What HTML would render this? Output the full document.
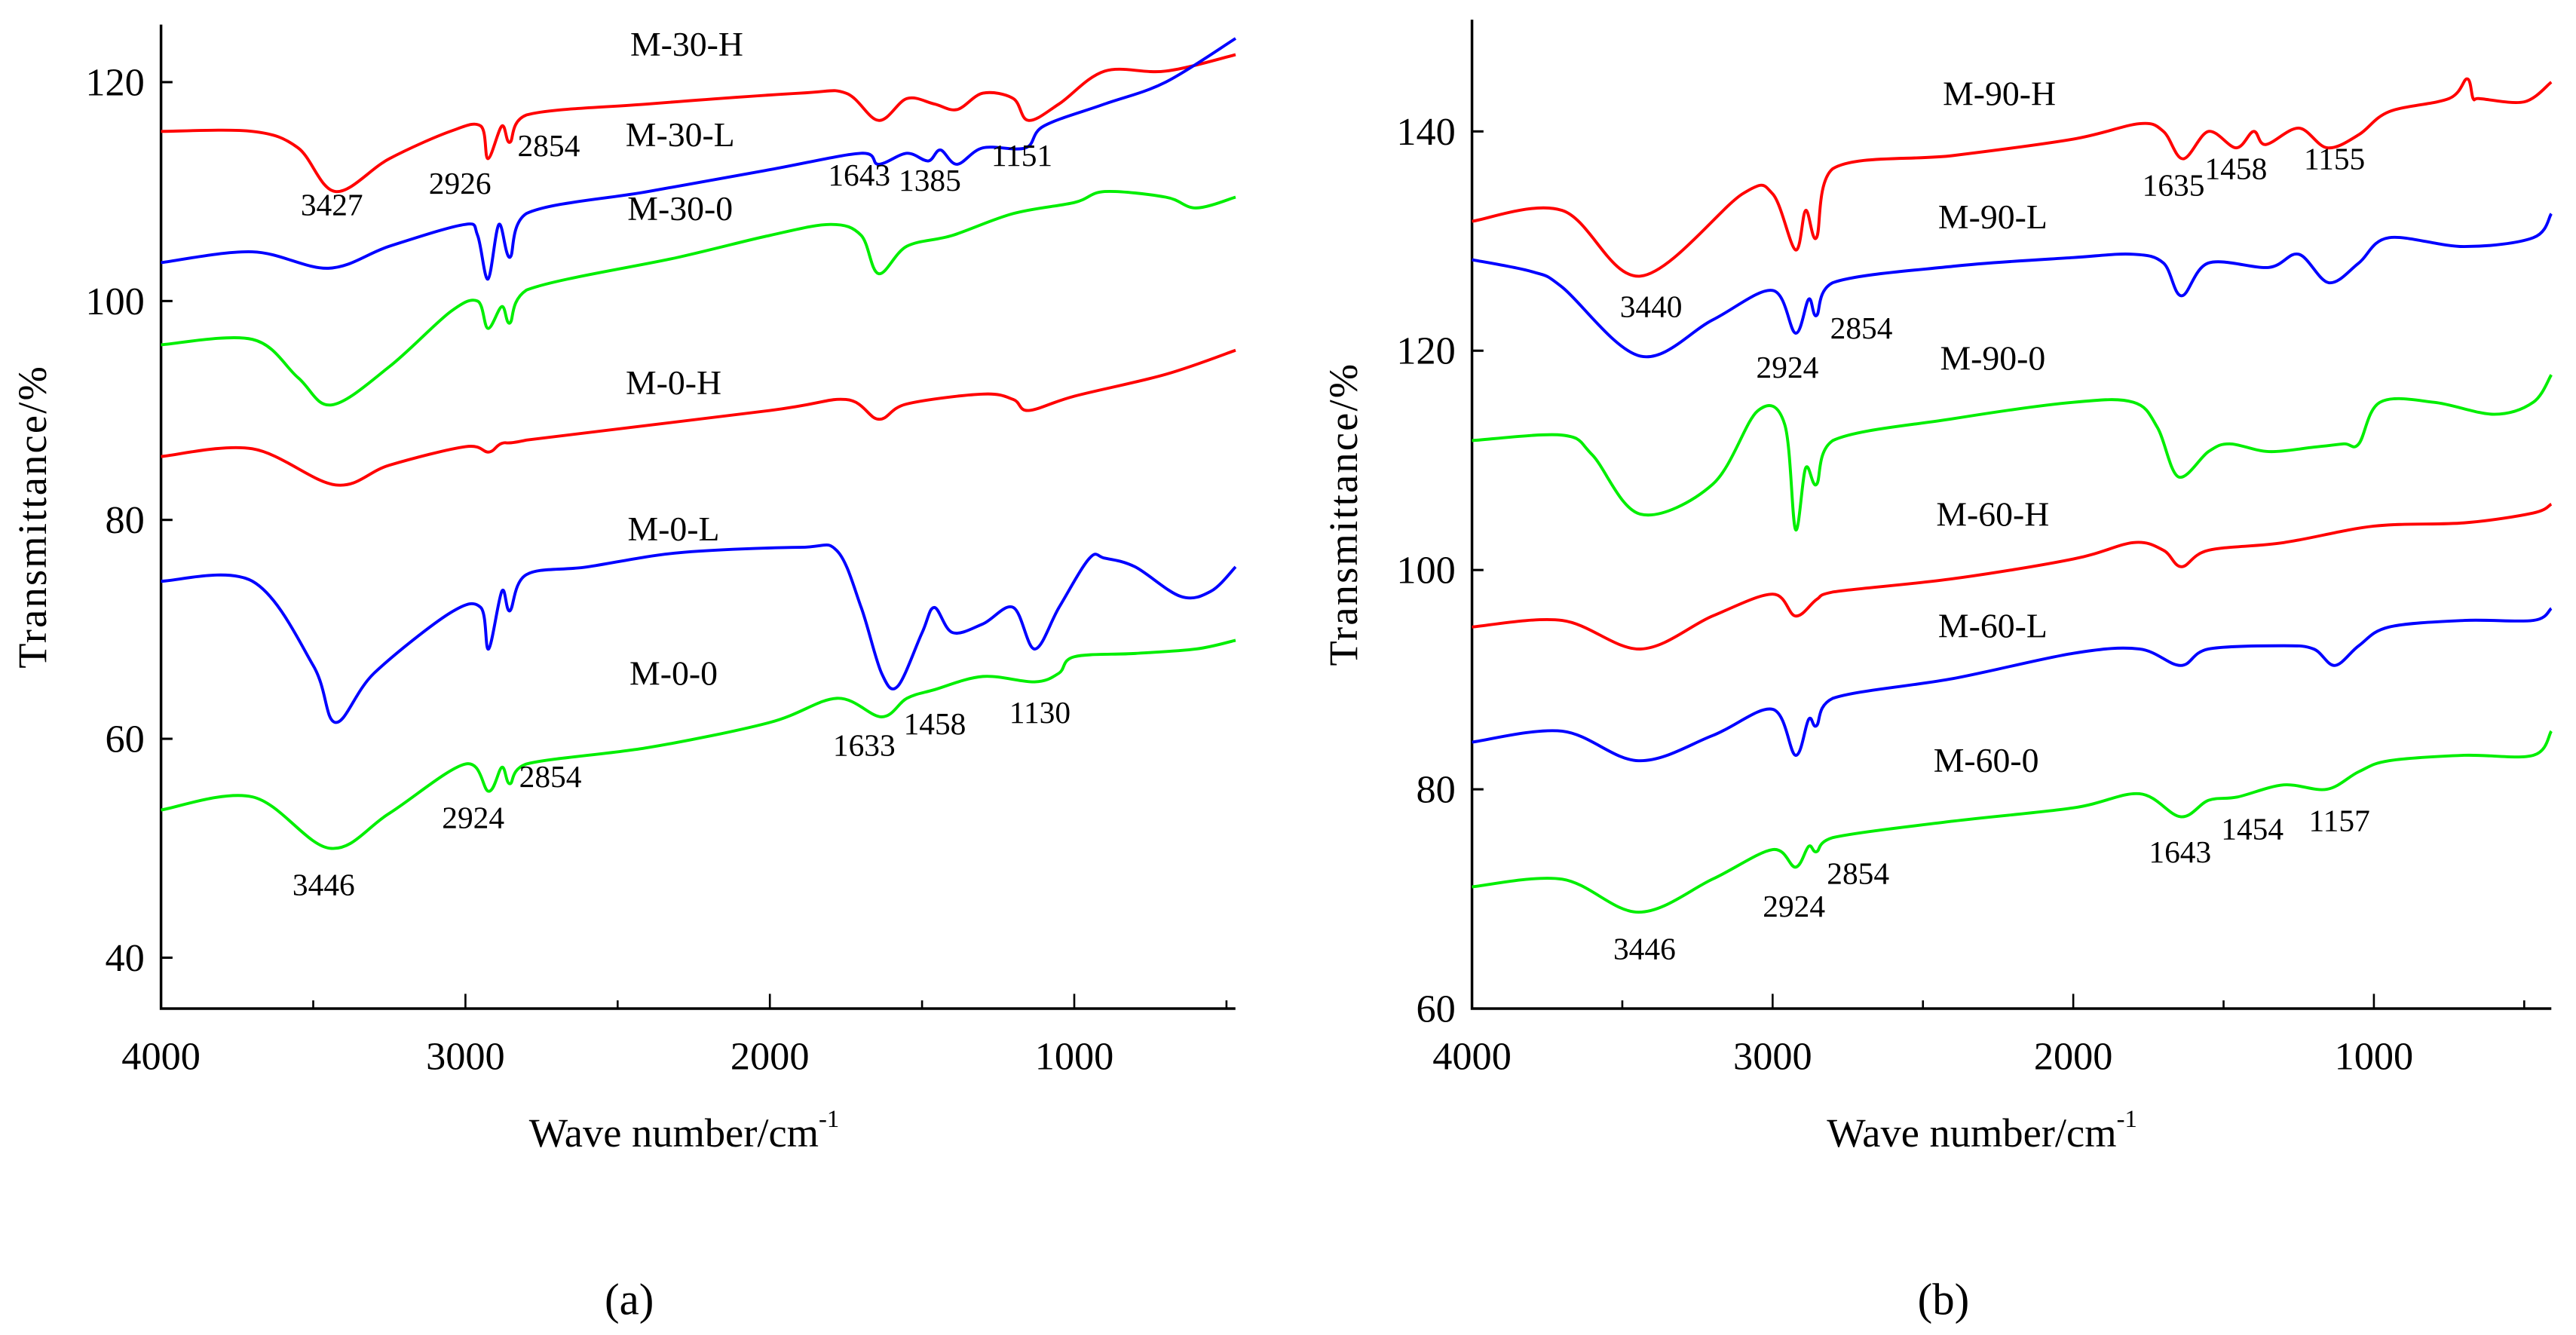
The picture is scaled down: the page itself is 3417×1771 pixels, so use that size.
<!DOCTYPE html>
<html><head><meta charset="utf-8"><style>
html,body{margin:0;padding:0;background:#fff;}
svg{display:block;}
text{font-family:"Liberation Serif",serif;fill:#000;}
</style></head>
<body>
<svg id="fig" width="3417" height="1771" viewBox="0 0 1568 812.7" xmlns="http://www.w3.org/2000/svg"></svg>
<script>
// ---- data panel (a) ----
const wnA_30H=[4000,3700,3550,3427,3250,3050,2950,2926,2880,2854,2800,2400,1900,1750,1643,1550,1460,1385,1300,1200,1151,1050,900,700,470];
const tA_30H=[115.5,115.5,114,110,113,115.5,116,113,116,114.5,117,118,119,119,116.5,118.5,118,117.5,119,118.5,116.5,118,121,121,122.5];
const wnA_30L=[4000,3700,3450,3250,3000,2960,2926,2890,2854,2800,2400,2000,1700,1643,1550,1480,1440,1385,1300,1160,1100,900,700,470];
const tA_30L=[103.5,104.5,103,105,107,106,102,107,104,108,110,112,113.5,112.5,113.5,112.8,113.8,112.5,114,114,116,118,120,124];
const wnA_30O=[4000,3700,3550,3440,3250,3050,2960,2926,2880,2854,2800,2300,2000,1800,1700,1643,1550,1400,1200,1000,900,700,600,470];
const tA_30O=[96,96.5,93,90.5,94,99,100,97.5,99.5,98,101,104,106,107,106,102.5,105,106,108,109,110,109.5,108.5,109.5];
const wnA_0H=[4000,3700,3427,3250,3000,2924,2880,2800,2000,1750,1643,1550,1300,1200,1150,1000,700,470];
const tA_0H=[85.8,86.5,83.2,85,86.7,86.2,87,87.3,90,91,89.2,90.6,91.5,91,90,91.3,93.3,95.5];
const wnA_0L=[4000,3700,3500,3427,3300,3050,2950,2924,2880,2854,2800,2600,2300,1900,1780,1700,1633,1580,1500,1460,1400,1300,1200,1130,1050,950,900,800,650,550,470];
const tA_0L=[74.4,74.4,66.7,61.5,66,71.5,72,68.2,73.5,71.7,75,75.7,77,77.5,77.2,72,66,64.8,69.7,72,69.7,70.5,72,68.2,72,76.5,76.5,75.7,73,73.5,75.7];
const wnA_0O=[4000,3700,3446,3250,3000,2924,2880,2854,2800,2400,2000,1780,1633,1550,1458,1300,1130,1050,1000,800,600,470];
const tA_0O=[53.5,54.7,50,53.2,57.7,55.2,57.4,55.9,57.7,59.2,61.5,63.7,62,63.7,64.5,65.7,65.2,66,67.5,67.8,68.2,69];
// ---- data panel (b) ----
const wnB_90H=[4000,3700,3440,3100,3000,2924,2890,2854,2800,2400,2000,1780,1700,1635,1550,1458,1400,1360,1250,1155,1050,950,750,690,670,650,500,410];
const tB_90H=[131.8,132.8,126.8,134.3,134.3,129.2,132.8,130.3,136.6,137.8,139.3,140.7,140,137.5,140,138.5,140,138.8,140.3,138.5,139.7,141.8,143,144.8,143,143,142.7,144.5];
const wnB_90L=[4000,3800,3700,3440,3200,3000,2924,2880,2854,2800,2400,2000,1800,1700,1640,1550,1350,1250,1150,1050,950,700,470,410];
const tB_90L=[128.3,127.2,125.8,119.5,122.8,125.5,121.6,124.7,123.2,126.2,127.7,128.5,128.8,128,125,128,127.6,128.8,126.2,128,130.3,129.5,130.3,132.5];
const wnB_90O=[4000,3700,3600,3440,3200,3050,2960,2924,2890,2854,2800,2400,2000,1800,1720,1650,1550,1480,1350,1200,1100,1050,980,800,600,470,410];
const tB_90O=[111.8,112.3,110.5,105.1,107.8,114.5,113.3,103.7,109.3,107.8,111.8,113.8,115.3,115.3,113,108.5,110.8,111.5,110.8,111.2,111.5,111.5,115.3,115.3,114.2,115.3,117.8];
const wnB_60H=[4000,3700,3440,3200,3000,2924,2854,2800,2400,2000,1800,1700,1640,1550,1300,1000,700,470,410];
const tB_60H=[94.8,95.4,92.8,95.8,97.8,95.8,97.3,98,99.2,101,102.5,101.8,100.3,101.8,102.5,104,104.3,105.2,106];
const wnB_60L=[4000,3700,3446,3200,3000,2924,2880,2854,2800,2400,2000,1780,1643,1550,1300,1200,1130,1050,950,700,470,410];
const tB_60L=[84.3,85.3,82.6,84.9,87.3,83.1,86.4,85.8,88.3,90.1,92.4,92.8,91.3,92.8,93.1,92.8,91.3,93.1,94.8,95.4,95.4,96.5];
const wnB_60O=[4000,3700,3446,3200,3000,2924,2880,2854,2800,2400,2000,1780,1643,1550,1454,1300,1157,1050,950,700,470,410];
const tB_60O=[71.1,71.8,68.8,71.8,74.5,72.9,74.8,74.3,75.6,77.1,78.3,79.6,77.5,79,79.3,80.4,80,81.6,82.6,83.1,83.1,85.3];

const xTicks=[4000,3000,2000,1000];
const yTicksA=[40,60,80,100,120];
const yTicksB=[60,80,100,120,140];

const svg=document.getElementById('fig');
const NS='http://www.w3.org/2000/svg';
function mk(tag,attrs,parent){const e=document.createElementNS(NS,tag);for(const k in attrs)e.setAttribute(k,attrs[k]);(parent||svg).appendChild(e);return e;}
function txt(s,x,y,size,parent,anchor){const t=mk('text',{x:x,y:y,'font-size':size,'text-anchor':anchor||'middle'},parent);t.textContent=s;return t;}
function smooth(pts){
  let d='M'+pts[0][0].toFixed(1)+','+pts[0][1].toFixed(1);
  for(let i=0;i<pts.length-1;i++){
    const p0=pts[Math.max(0,i-1)],p1=pts[i],p2=pts[i+1],p3=pts[Math.min(pts.length-1,i+2)];
    const k=1/6;
    const c1x=p1[0]+(p2[0]-p0[0])*k,c2x=p2[0]-(p3[0]-p1[0])*k;
    // clamp x to segment to avoid loops
    const lo=Math.min(p1[0],p2[0]),hi=Math.max(p1[0],p2[0]);
    const cx1=Math.min(hi,Math.max(lo,c1x)),cx2=Math.min(hi,Math.max(lo,c2x));
    const c1y=p1[1]+(p2[1]-p0[1])*k,c2y=p2[1]-(p3[1]-p1[1])*k;
    d+=` C${cx1.toFixed(1)},${c1y.toFixed(1)} ${cx2.toFixed(1)},${c2y.toFixed(1)} ${p2[0].toFixed(1)},${p2[1].toFixed(1)}`;
  }
  return d;
}

function panel(cfg){
  const g=mk('g',{});
  
  
  const X=w=>cfg.x0+(cfg.w0-w)*cfg.kx;
  const Y=v=>cfg.y0-(v-cfg.v0)*cfg.ky;
  const ax=mk('path',{d:`M${cfg.x0},${cfg.top} V${cfg.bottom} H${cfg.right}`,stroke:'#000','stroke-width':1.6,fill:'none'},g);
  
  
  for(let w=4000;w>=500;w-=500){
    const major=w%1000===0;
    mk('line',{x1:X(w),x2:X(w),y1:cfg.bottom,y2:cfg.bottom-(major?9:5),stroke:'#000','stroke-width':1.2},g);
  }
  xTicks.forEach(w=>{const t=txt(String(w),X(w),cfg.bottom+37,24,g);
    
    });
  cfg.yt.forEach(v=>{
    mk('line',{x1:cfg.x0,x2:cfg.x0+7,y1:Y(v),y2:Y(v),stroke:'#000','stroke-width':1.4},g);
    const t=txt(String(v),cfg.x0-10,Y(v)+8,24,g,'end');
    
    
  });
  const yt=txt('Transmittance/%',0,0,25,g);
  yt.setAttribute('transform',`translate(${cfg.x0-70},${(cfg.top+cfg.bottom)/2}) rotate(-90)`);
  yt.setAttribute('letter-spacing','1');
  
  
  const xt=mk('text',{x:cfg.xtX,y:cfg.bottom+84,'font-size':25,'text-anchor':'start'},g);
  xt.textContent='Wave number/cm';
  const sup=mk('tspan',{dy:-12,'font-size':15},xt);sup.textContent='-1';
  
  
  cfg.series.forEach(s=>{
    const pts=s.wn.map((w,i)=>[X(w),Y(s.t[i])]);
    const p=mk('path',{d:smooth(pts),stroke:s.c,'stroke-width':1.8,fill:'none','stroke-linejoin':'round'},g);
    
    
    const l=txt(s.n,s.lx,s.ly,21,g);
    
    
  });
  cfg.ann.forEach(a=>{const t=txt(a[0],a[1],a[2],19,g);
    
    });
  const pl=txt(cfg.label,cfg.lblX,800,27,g);
  
  
}

panel({name:'panel-a',x0:98,w0:4000,kx:0.1853,y0:583,v0:40,ky:6.6625,top:15,bottom:614,right:752,yt:yTicksA,xtX:322,label:'(a)',lblX:383,
 series:[
  {n:'M-30-H',wn:wnA_30H,t:tA_30H,c:'#ff0000',lx:418,ly:34},
  {n:'M-30-L',wn:wnA_30L,t:tA_30L,c:'#0000ff',lx:414,ly:89},
  {n:'M-30-0',wn:wnA_30O,t:tA_30O,c:'#00ee00',lx:414,ly:134},
  {n:'M-0-H',wn:wnA_0H,t:tA_0H,c:'#ff0000',lx:410,ly:240},
  {n:'M-0-L',wn:wnA_0L,t:tA_0L,c:'#0000ff',lx:410,ly:329},
  {n:'M-0-0',wn:wnA_0O,t:tA_0O,c:'#00ee00',lx:410,ly:417}],
 ann:[['3427',202,131],['2926',280,118],['2854',334,95],['1643',523,113],['1385',566,116],['1151',622,101],
      ['1633',526,460],['1458',569,447],['1130',633,440],['2924',288,504],['2854',335,479],['3446',197,545]]});

panel({name:'panel-b',x0:896,w0:4000,kx:0.183,y0:614,v0:60,ky:6.675,top:12,bottom:614,right:1553,yt:yTicksB,xtX:1112,label:'(b)',lblX:1183,
 series:[
  {n:'M-90-H',wn:wnB_90H,t:tB_90H,c:'#ff0000',lx:1217,ly:64},
  {n:'M-90-L',wn:wnB_90L,t:tB_90L,c:'#0000ff',lx:1213,ly:139},
  {n:'M-90-0',wn:wnB_90O,t:tB_90O,c:'#00ee00',lx:1213,ly:225},
  {n:'M-60-H',wn:wnB_60H,t:tB_60H,c:'#ff0000',lx:1213,ly:320},
  {n:'M-60-L',wn:wnB_60L,t:tB_60L,c:'#0000ff',lx:1213,ly:388},
  {n:'M-60-0',wn:wnB_60O,t:tB_60O,c:'#00ee00',lx:1209,ly:470}],
 ann:[['3440',1005,193],['2924',1088,230],['2854',1133,206],['1635',1323,119],['1458',1361,109],['1155',1421,103],
      ['1643',1327,525],['1454',1371,511],['1157',1424,506],['2924',1092,558],['2854',1131,538],['3446',1001,584]]});
</script>
</body></html>
